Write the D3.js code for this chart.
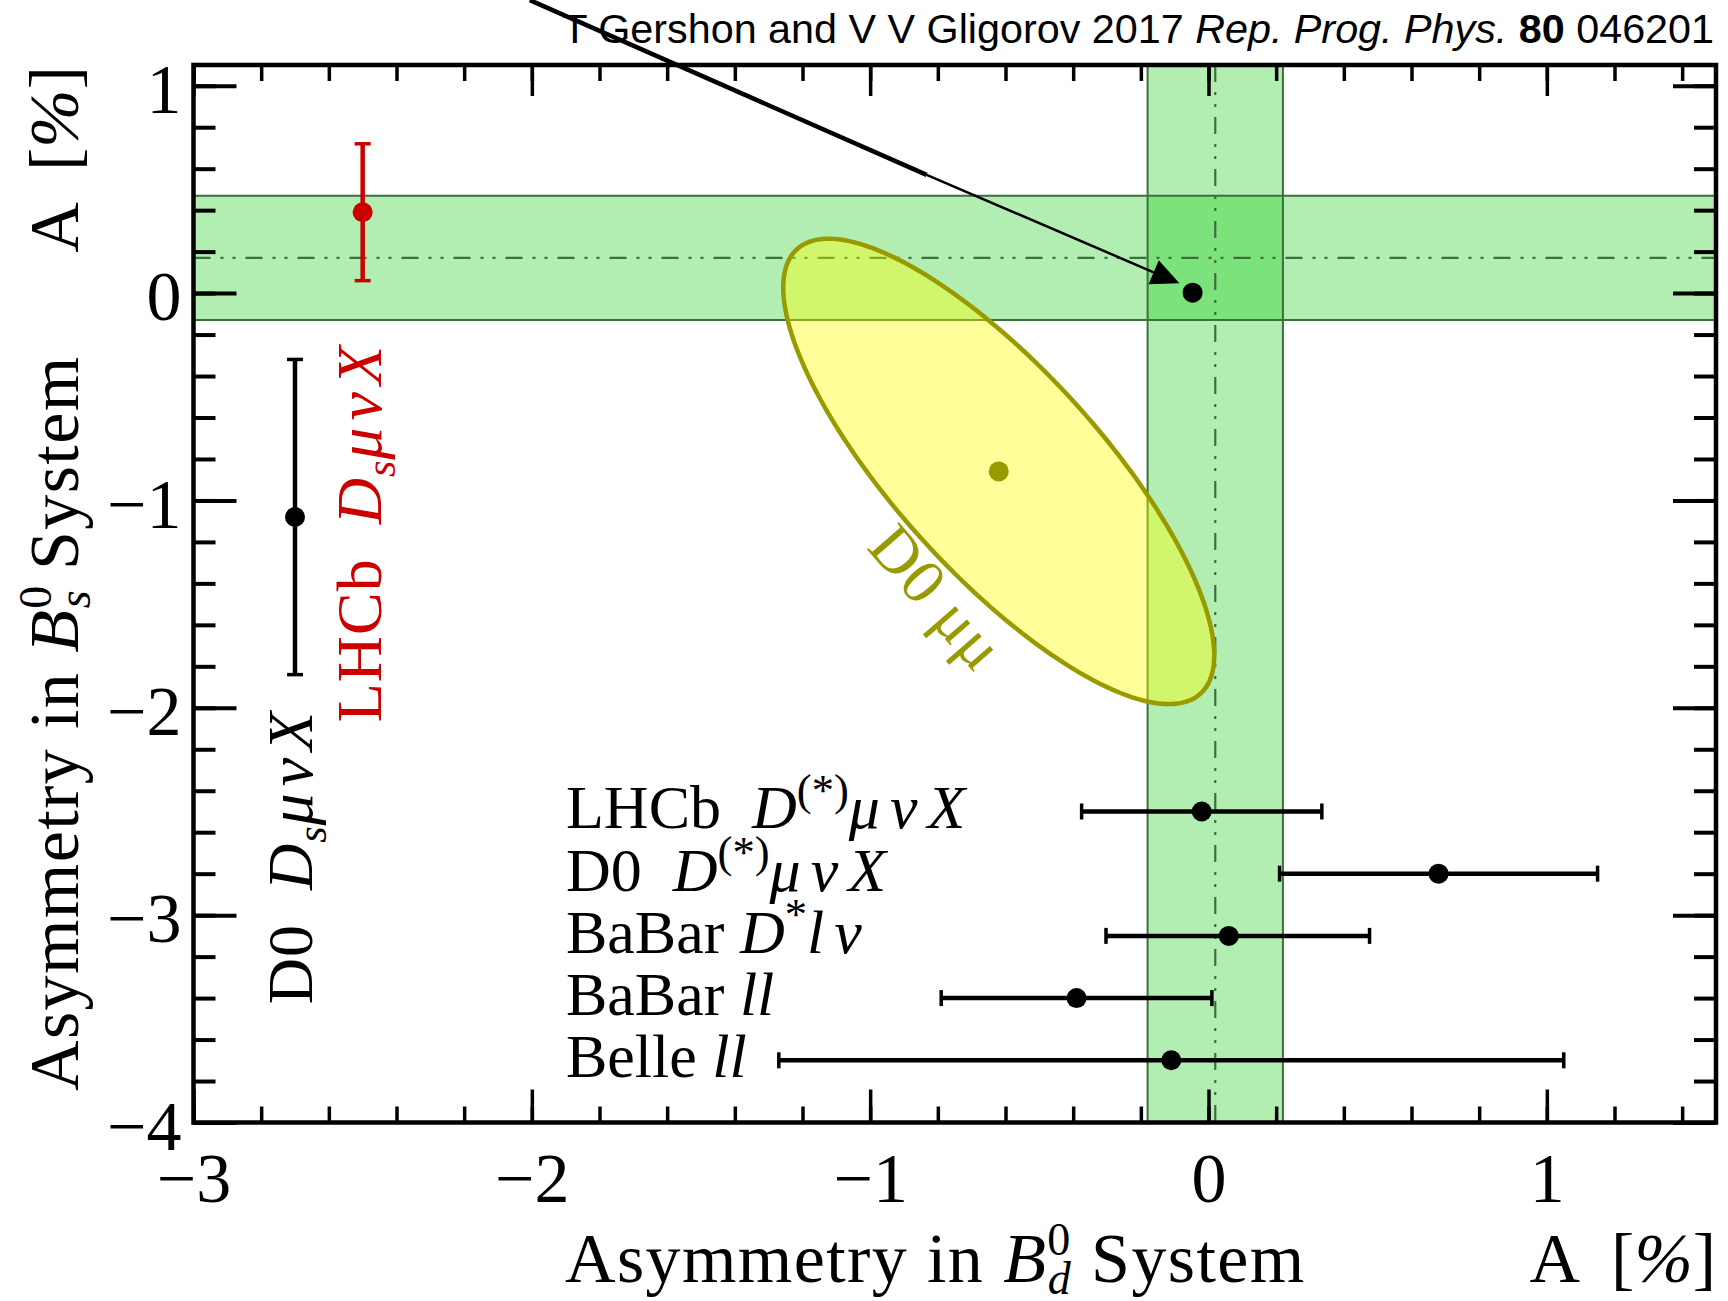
<!DOCTYPE html>
<html>
<head>
<meta charset="utf-8">
<script src="https://cdn.jsdelivr.net/npm/d3@7"></script>
<style>
  html, body { margin: 0; padding: 0; background: #fff; }
  svg { display: block; }
  text { font-family: "Liberation Serif", "Times New Roman", serif; white-space: pre; }
</style>
</head>
<body>
<svg id="chart" width="1728" height="1301"></svg>
<script>
// ---- axis ranges and ticks (asymmetry in %) ----
const xDomain = [-3, 1.5];
const yDomain = [-4, 1.1];
const xMajorTicks = [-3, -2, -1, 0, 1];
const yMajorTicks = [-4, -3, -2, -1, 0, 1];
const tickStep = 0.2;

// ---- world averages: [centre, half-width] ----
const bdAverage = [0.02, 0.20];   // a_sl in the B_d system (vertical band)
const bsAverage = [0.17, 0.30];   // a_sl in the B_s system (horizontal band)

// ---- B_d measurements (horizontal error bars) ----
const bdRowY     = [-2.5, -2.8, -3.1, -3.4, -3.7];
const bdValue    = [-0.02, 0.68, 0.06, -0.39, -0.11];
const bdErrLow   = [0.355, 0.47, 0.363, 0.40, 1.16];
const bdErrHigh  = [0.355, 0.47, 0.416, 0.40, 1.16];
const bdLabels = [
  [["LHCb  ", ""], ["D", "i"], ["(*)", "sup"], ["μνX", "iw"]],
  [["D0  ", ""], ["D", "i"], ["(*)", "sup"], ["μνX", "iw"]],
  [["BaBar ", ""], ["D", "i"], ["*", "sup"], ["lν", "iw"]],
  [["BaBar ", ""], ["ll", "i"]],
  [["Belle ", ""], ["ll", "i"]]
];

// ---- B_s measurements (vertical error bars) ----
const bsColumnX = [-2.7, -2.5];
const bsValue   = [-1.08, 0.39];
const bsErr     = [0.76, 0.33];
const bsColors  = ["#000000", "#cc0000"];
const bsLabels = [
  [["D0  ", ""], ["D", "i"], ["s", "sub"], ["μνX", "iw"]],
  [["LHCb  ", ""], ["D", "i"], ["s", "sub"], ["μνX", "iw"]]
];
// label start (bottom end, in y units) and baseline position (in x units)
const bsLabelStartY = [-3.43, -2.07];
const bsLabelBaseX  = [-2.65, -2.445];

// ---- D0 dimuon combination (2D, 68% CL contour) ----
const dimuonCenter = [-0.62, -0.86];
const dimuonSigma  = [0.42, 0.74];
const dimuonRho    = -0.79;
const dimuonDeltaChi2 = 2.3;
const dimuonLabelPos = [-0.85, -1.535];

// ---- Standard Model expectation and the arrow pointing to it ----
const smPoint = [-0.047, 0.002];
const arrowPoints = [[-2.006, 1.413], [-0.833, 0.570], [-0.086, 0.047]];

// ---- layout ----
const svg = d3.select("#chart");
const x = d3.scaleLinear().domain(xDomain).range([193.5, 1716]);
const y = d3.scaleLinear().domain(yDomain).range([1122.5, 65]);
const X0 = x.range()[0], X1 = x.range()[1];
const Y0 = y.range()[1], Y1 = y.range()[0];

const bandFill = "rgb(0,200,0)";
const bandLine = "#3d6f3d";
const dashDot = "17,10,3,9,3,10";
const markerR = 10;

// rich-text helper: segments of [text, style]
function rich(textSel, segs, size, spacing) {
  let shift = 0;
  segs.forEach(([t, st]) => {
    const ts = textSel.append("tspan").text(t);
    let target = 0;
    if (st.includes("i")) ts.attr("font-style", "italic");
    if (st === "iw") ts.attr("letter-spacing", spacing);
    if (st === "sup") { target = -0.38 * size; ts.attr("font-size", size * 0.72); }
    if (st === "sub") { target = 0.22 * size; ts.attr("font-size", size * 0.66).attr("font-style", "italic"); }
    if (target !== shift) { ts.attr("dy", target - shift); shift = target; }
  });
}

// ---- bands ----
const bands = svg.append("g");
bands.append("rect")
  .attr("x", X0).attr("width", X1 - X0)
  .attr("y", y(bsAverage[0] + bsAverage[1]))
  .attr("height", y(bsAverage[0] - bsAverage[1]) - y(bsAverage[0] + bsAverage[1]))
  .attr("fill", bandFill).attr("fill-opacity", 0.3);
bands.append("rect")
  .attr("y", Y0).attr("height", Y1 - Y0)
  .attr("x", x(bdAverage[0] - bdAverage[1]))
  .attr("width", x(bdAverage[0] + bdAverage[1]) - x(bdAverage[0] - bdAverage[1]))
  .attr("fill", bandFill).attr("fill-opacity", 0.3);

[bsAverage[0] - bsAverage[1], bsAverage[0] + bsAverage[1]].forEach(v => {
  bands.append("line").attr("x1", X0).attr("x2", X1).attr("y1", y(v)).attr("y2", y(v))
    .attr("stroke", bandLine).attr("stroke-width", 2);
});
[bdAverage[0] - bdAverage[1], bdAverage[0] + bdAverage[1]].forEach(v => {
  bands.append("line").attr("y1", Y0).attr("y2", Y1).attr("x1", x(v)).attr("x2", x(v))
    .attr("stroke", bandLine).attr("stroke-width", 2);
});
bands.append("line").attr("x1", X0).attr("x2", X1)
  .attr("y1", y(bsAverage[0])).attr("y2", y(bsAverage[0]))
  .attr("stroke", bandLine).attr("stroke-width", 2.2).attr("stroke-dasharray", dashDot);
bands.append("line").attr("y1", Y0).attr("y2", Y1)
  .attr("x1", x(bdAverage[0])).attr("x2", x(bdAverage[0]))
  .attr("stroke", bandLine).attr("stroke-width", 2.2).attr("stroke-dasharray", dashDot);

// ---- dimuon ellipse ----
const k = Math.sqrt(dimuonDeltaChi2);
const ellipsePts = d3.range(0, 361, 2).map(deg => {
  const t = deg * Math.PI / 180;
  const ex = dimuonCenter[0] + k * dimuonSigma[0] * Math.cos(t);
  const ey = dimuonCenter[1] + k * dimuonSigma[1] *
    (dimuonRho * Math.cos(t) + Math.sqrt(1 - dimuonRho * dimuonRho) * Math.sin(t));
  return [x(ex), y(ey)];
});
svg.append("path")
  .attr("d", d3.line().curve(d3.curveLinearClosed)(ellipsePts))
  .attr("fill", "#ffff00").attr("fill-opacity", 0.4)
  .attr("stroke", "#999900").attr("stroke-width", 4.5);
svg.append("circle")
  .attr("cx", x(dimuonCenter[0])).attr("cy", y(dimuonCenter[1])).attr("r", markerR)
  .attr("fill", "#999900");
svg.append("text")
  .attr("transform", `translate(${x(dimuonLabelPos[0])},${y(dimuonLabelPos[1])}) rotate(49)`)
  .attr("text-anchor", "middle").attr("font-size", 64).attr("fill", "#999900")
  .attr("letter-spacing", 1)
  .text("D0 μμ");

// ---- B_d measurements ----
const bd = svg.append("g");
bdRowY.forEach((ry, i) => {
  const lo = bdValue[i] - bdErrLow[i], hi = bdValue[i] + bdErrHigh[i];
  bd.append("line").attr("x1", x(lo)).attr("x2", x(hi)).attr("y1", y(ry)).attr("y2", y(ry))
    .attr("stroke", "#000").attr("stroke-width", 4.5);
  [lo, hi].forEach(v => bd.append("line")
    .attr("x1", x(v)).attr("x2", x(v)).attr("y1", y(ry) - 8).attr("y2", y(ry) + 8)
    .attr("stroke", "#000").attr("stroke-width", 3.5));
  bd.append("circle").attr("cx", x(bdValue[i])).attr("cy", y(ry)).attr("r", markerR).attr("fill", "#000");
  const t = bd.append("text").attr("x", 566).attr("y", y(ry) + 17).attr("font-size", 62);
  rich(t, bdLabels[i], 62, 10);
});

// ---- B_s measurements ----
const bs = svg.append("g");
bsColumnX.forEach((cx, i) => {
  const lo = bsValue[i] - bsErr[i], hi = bsValue[i] + bsErr[i];
  bs.append("line").attr("x1", x(cx)).attr("x2", x(cx)).attr("y1", y(lo)).attr("y2", y(hi))
    .attr("stroke", bsColors[i]).attr("stroke-width", 4.5);
  [lo, hi].forEach(v => bs.append("line")
    .attr("x1", x(cx) - 8).attr("x2", x(cx) + 8).attr("y1", y(v)).attr("y2", y(v))
    .attr("stroke", bsColors[i]).attr("stroke-width", 3.5));
  bs.append("circle").attr("cx", x(cx)).attr("cy", y(bsValue[i])).attr("r", markerR).attr("fill", bsColors[i]);
  const t = bs.append("text")
    .attr("transform", `translate(${x(bsLabelBaseX[i])},${y(bsLabelStartY[i])}) rotate(-90)`)
    .attr("font-size", 64).attr("fill", bsColors[i]).attr("letter-spacing", 1);
  rich(t, bsLabels[i], 64, 7);
});

// ---- frame, ticks and tick labels ----
const minorX = d3.range(xDomain[0], xDomain[1] + 1e-9, tickStep).map(v => +v.toFixed(2));
const minorY = d3.range(yDomain[0], yDomain[1] - 1e-9, tickStep).map(v => +v.toFixed(2));
const fmt = d3.format("d");

function ticks(axisFn, pos, values, len, width) {
  const g = svg.append("g").attr("transform", pos)
    .call(axisFn.tickValues(values).tickSize(-len).tickSizeOuter(0).tickFormat(""));
  g.select(".domain").remove();
  g.selectAll(".tick line").attr("stroke", "#000").attr("stroke-width", width);
}
ticks(d3.axisBottom(x), `translate(0,${Y1})`, minorX, 16, 3.5);
ticks(d3.axisBottom(x), `translate(0,${Y1})`, xMajorTicks, 33, 3.5);
ticks(d3.axisTop(x), `translate(0,${Y0})`, minorX, 16, 3.5);
ticks(d3.axisTop(x), `translate(0,${Y0})`, xMajorTicks, 31, 3.5);
ticks(d3.axisLeft(y), `translate(${X0},0)`, minorY, 22, 4);
ticks(d3.axisLeft(y), `translate(${X0},0)`, yMajorTicks, 43, 4);
ticks(d3.axisRight(y), `translate(${X1},0)`, minorY, 22, 4);
ticks(d3.axisRight(y), `translate(${X1},0)`, yMajorTicks, 43, 4);

const xl = svg.append("g").attr("transform", `translate(0,${Y1})`)
  .call(d3.axisBottom(x).tickValues(xMajorTicks).tickSize(0).tickPadding(30).tickFormat(fmt));
xl.select(".domain").remove();
xl.attr("font-family", null).attr("font-size", null);
xl.selectAll("text").attr("font-size", 70).attr("fill", "#000");

const yl = svg.append("g").attr("transform", `translate(${X0},0)`)
  .call(d3.axisLeft(y).tickValues(yMajorTicks).tickSize(0).tickPadding(12).tickFormat(fmt));
yl.select(".domain").remove();
yl.attr("font-family", null).attr("font-size", null);
yl.selectAll("text").attr("font-size", 70).attr("fill", "#000").attr("dy", "0.38em");

svg.append("rect").attr("x", X0).attr("y", Y0).attr("width", X1 - X0).attr("height", Y1 - Y0)
  .attr("fill", "none").attr("stroke", "#000").attr("stroke-width", 4.5);

// ---- axis titles ----
function axisTitle(sel, sub) {
  sel.attr("font-size", 70).attr("letter-spacing", 1.4);
  sel.append("tspan").text("Asymmetry in ");
  sel.append("tspan").attr("font-style", "italic").text("B");
  sel.append("tspan").attr("font-size", 46).attr("dy", -27).text("0");
  sel.append("tspan").attr("font-size", 46).attr("font-style", "italic")
    .attr("dx", -24).attr("dy", 39).text(sub);
  sel.append("tspan").attr("dy", -12).text(" System");
}
function unitTitle(sel) {
  sel.attr("font-size", 70).attr("text-anchor", "end");
  sel.append("tspan").text("A  [");
  sel.append("tspan").attr("font-style", "italic").text("%");
  sel.append("tspan").text("]");
}
axisTitle(svg.append("text").attr("x", 565).attr("y", 1282), "d");
unitTitle(svg.append("text").attr("x", 1716).attr("y", 1282));
axisTitle(svg.append("text").attr("transform", "translate(78,1091) rotate(-90)"), "s");
unitTitle(svg.append("text").attr("transform", "translate(78,66) rotate(-90)"));

// ---- arrow to the Standard Model point ----
const sm = svg.append("g");
sm.append("circle").attr("cx", x(smPoint[0])).attr("cy", y(smPoint[1])).attr("r", markerR).attr("fill", "#000");
const ap = arrowPoints.map(p => [x(p[0]), y(p[1])]);
const tip = ap[2];
const dx = tip[0] - ap[1][0], dy = tip[1] - ap[1][1];
const L = Math.hypot(dx, dy), ux = dx / L, uy = dy / L;
const headLen = 28, headHalf = 13;
const base = [tip[0] - ux * headLen, tip[1] - uy * headLen];
sm.append("line").attr("x1", ap[0][0]).attr("y1", ap[0][1]).attr("x2", ap[1][0]).attr("y2", ap[1][1])
  .attr("stroke", "#000").attr("stroke-width", 4.5);
sm.append("line").attr("x1", ap[1][0]).attr("y1", ap[1][1]).attr("x2", base[0]).attr("y2", base[1])
  .attr("stroke", "#000").attr("stroke-width", 2.5);
sm.append("path")
  .attr("d", d3.line()([tip, [base[0] - uy * headHalf, base[1] + ux * headHalf],
    [base[0] + uy * headHalf, base[1] - ux * headHalf]]) + "Z")
  .attr("fill", "#000");

// ---- citation ----
const cite = svg.append("text").attr("x", 1714).attr("y", 43).attr("text-anchor", "end")
  .attr("font-size", 41.3).style("font-family", "'Liberation Sans', Arial, sans-serif");
cite.append("tspan").text("T Gershon and V V Gligorov 2017 ");
cite.append("tspan").attr("font-style", "italic").text("Rep. Prog. Phys.");
cite.append("tspan").text(" ");
cite.append("tspan").attr("font-weight", "bold").text("80");
cite.append("tspan").text(" 046201");
</script>
</body>
</html>
